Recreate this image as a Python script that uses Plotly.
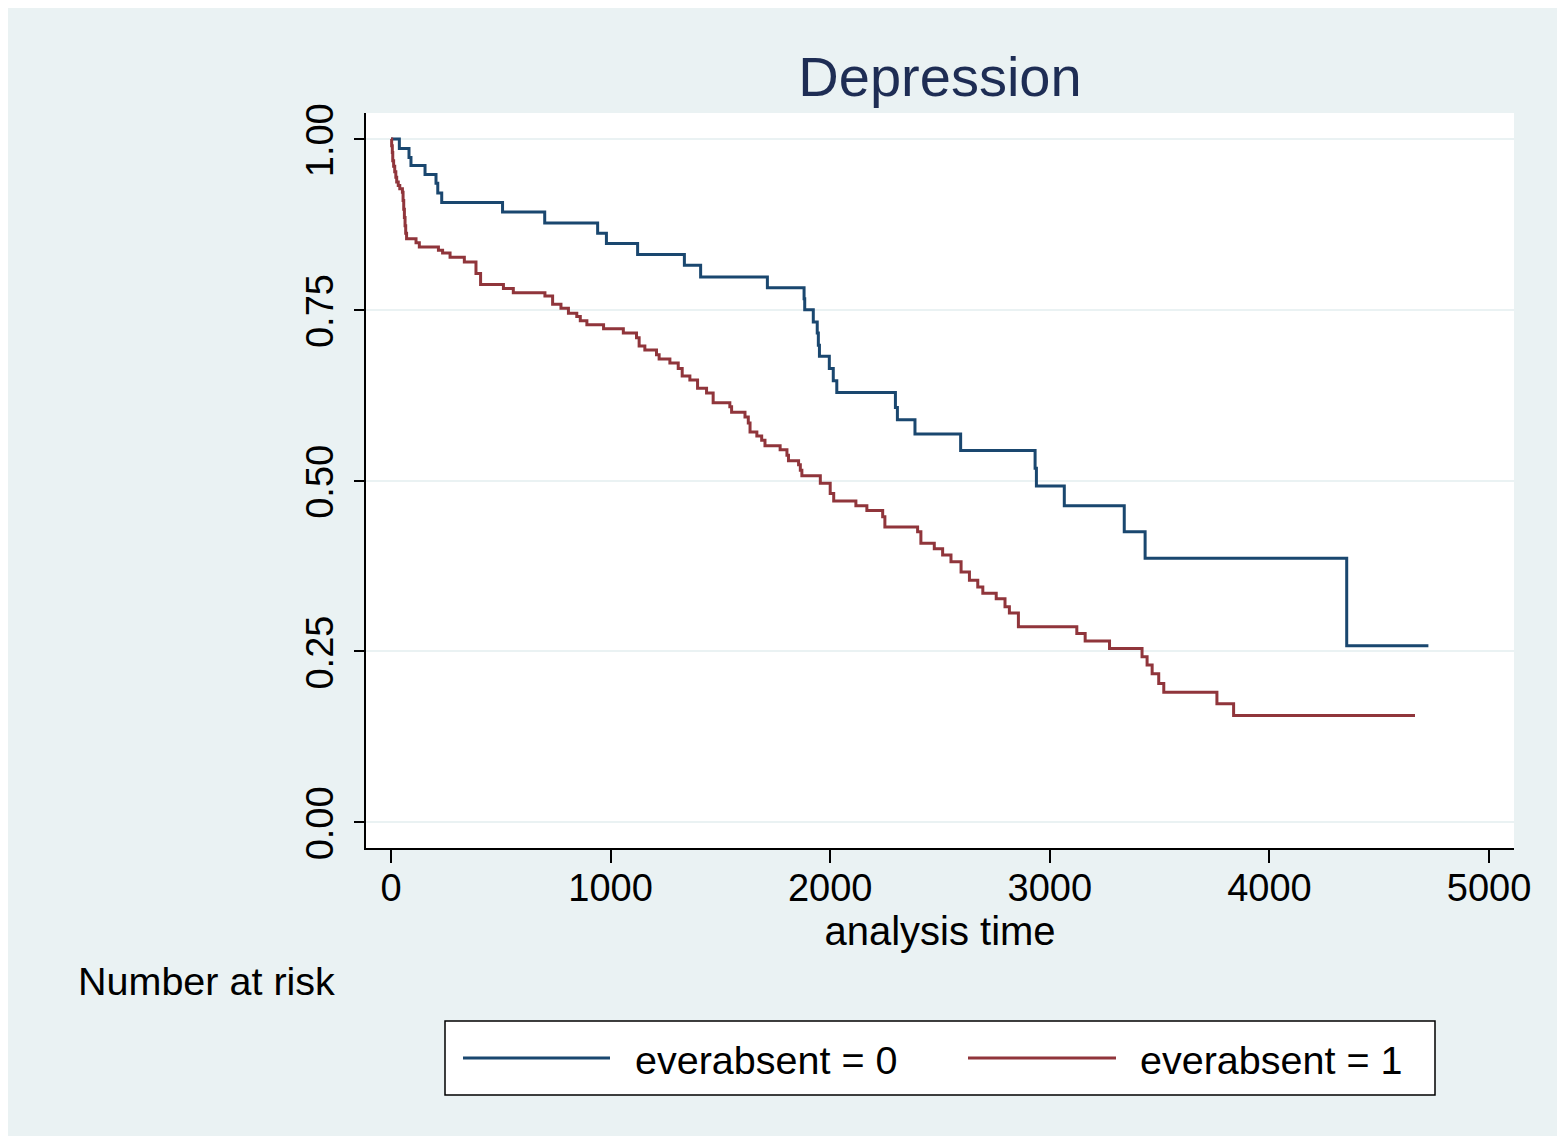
import plotly.graph_objects as go

# ---- data ----
blue_time = [0, 38, 82, 91, 155, 205, 213, 231, 508, 700, 941, 981, 1123, 1336, 1410,
             1714, 1881, 1884, 1923, 1941, 1946, 1951, 1996, 2014, 2030, 2297, 2306,
             2386, 2594, 2933, 2939, 3066, 3339, 3434, 4352, 4724]
blue_surv = [1.0, 0.986, 0.973, 0.961, 0.948, 0.935, 0.921, 0.907, 0.893, 0.877, 0.862,
             0.847, 0.831, 0.815, 0.798, 0.782, 0.766, 0.750, 0.732, 0.716, 0.698, 0.682,
             0.664, 0.646, 0.629, 0.607, 0.589, 0.568, 0.544, 0.518, 0.492, 0.463, 0.425,
             0.386, 0.258, 0.258]

red_time = [0, 3, 6, 8, 12, 17, 22, 26, 33, 40, 52, 55, 58, 61, 64, 67, 71, 114, 129,
            216, 235, 269, 334, 387, 408, 512, 557, 701, 736, 774, 808, 846, 862, 892,
            968, 1058, 1118, 1130, 1156, 1209, 1221, 1270, 1308, 1326, 1361, 1396, 1437,
            1467, 1543, 1551, 1612, 1627, 1635, 1666, 1688, 1703, 1772, 1803, 1810, 1856,
            1864, 1871, 1955, 2000, 2016, 2117, 2167, 2239, 2249, 2398, 2413, 2474, 2512,
            2550, 2596, 2634, 2672, 2695, 2756, 2796, 2816, 2857, 3123, 3161, 3272, 3420,
            3443, 3466, 3496, 3519, 3761, 3837, 4663]
red_surv = [1.0, 0.99, 0.98, 0.968, 0.96, 0.952, 0.944, 0.937, 0.932, 0.927, 0.922, 0.91,
            0.897, 0.885, 0.873, 0.862, 0.854, 0.848, 0.842, 0.837, 0.833, 0.827, 0.820,
            0.803, 0.787, 0.781, 0.775, 0.770, 0.758, 0.752, 0.745, 0.740, 0.734, 0.728,
            0.722, 0.716, 0.709, 0.697, 0.691, 0.684, 0.678, 0.672, 0.664, 0.653, 0.647,
            0.635, 0.628, 0.614, 0.608, 0.600, 0.593, 0.584, 0.571, 0.565, 0.559, 0.551,
            0.545, 0.537, 0.529, 0.523, 0.515, 0.507, 0.496, 0.481, 0.470, 0.463, 0.456,
            0.447, 0.432, 0.425, 0.408, 0.400, 0.391, 0.381, 0.366, 0.354, 0.344, 0.335,
            0.327, 0.315, 0.306, 0.286, 0.276, 0.265, 0.254, 0.242, 0.230, 0.217, 0.203,
            0.190, 0.173, 0.156, 0.156]

series_names = ["everabsent = 0", "everabsent = 1"]
y_ticks = [0.0, 0.25, 0.5, 0.75, 1.0]
x_ticks = [0, 1000, 2000, 3000, 4000, 5000]

BLUE = "#1a476f"
RED = "#90353b"
BG = "#eaf2f3"
FONT = "Liberation Sans, Arial, sans-serif"

fig = go.Figure()
fig.add_trace(go.Scatter(x=blue_time, y=blue_surv, mode="lines", line_shape="hv",
                         line=dict(color=BLUE, width=3), name=series_names[0],
                         showlegend=False))
fig.add_trace(go.Scatter(x=red_time, y=red_surv, mode="lines", line_shape="hv",
                         line=dict(color=RED, width=3), name=series_names[1],
                         showlegend=False))

# page body adds an 8px offset; positions below are screenshot pixels
OFF = 8
W, H = 1549, 1128
L, R, T, B = 366 - OFF, 1514 - OFF, 113 - OFF, 848 - OFF
PW, PH = R - L, B - T


def px(x):
    return (x - OFF - L) / PW


def py(y):
    return (B - (y - OFF)) / PH


fig.update_layout(
    width=W, height=H, autosize=False,
    margin=dict(l=L, r=W - R, t=T, b=H - B, pad=0),
    paper_bgcolor=BG, plot_bgcolor="white",
    font=dict(family=FONT, size=38, color="black"),
    title=dict(text="Depression", x=0.5, xref="paper", y=1 - (76 - OFF) / H,
               yref="container", xanchor="center", yanchor="middle",
               font=dict(size=56, color="#1e2d54", family=FONT)),
    xaxis=dict(range=[-113.8, 5113.8], tickvals=x_ticks, ticks="outside", ticklen=13,
               tickwidth=1.5, tickcolor="black", showline=True, linecolor="black",
               linewidth=1.5, showgrid=False, zeroline=False, ticklabelstandoff=-7,
               tickfont=dict(size=38),
               title=dict(text="analysis time", standoff=7, font=dict(size=40))),
    yaxis=dict(range=[-0.038, 1.038], tickvals=y_ticks, tickformat=".2f", ticks="outside",
               ticklen=10, tickwidth=1.5, tickcolor="black", showline=True,
               linecolor="black", linewidth=1.5, showgrid=True, gridcolor=BG,
               gridwidth=2, zeroline=False, tickangle=-90, ticklabelstandoff=6,
               ticklabelshift=7, tickfont=dict(size=38)),
)

# "Number at risk" label
fig.add_annotation(text="Number at risk", xref="paper", yref="paper", x=px(337),
                   y=py(981), xanchor="right", yanchor="middle", showarrow=False,
                   font=dict(size=39.5, color="black"))

# manual legend
fig.add_shape(type="rect", xref="paper", yref="paper", x0=px(445), x1=px(1435),
              y0=py(1095), y1=py(1021), fillcolor="white",
              line=dict(color="black", width=1.5))
for (x0, x1, tx, col, name) in [(463, 610, 633, BLUE, series_names[0]),
                                (968, 1116, 1138, RED, series_names[1])]:
    fig.add_shape(type="line", xref="paper", yref="paper", x0=px(x0), x1=px(x1),
                  y0=py(1058), y1=py(1058), line=dict(color=col, width=3))
    fig.add_annotation(text=name, xref="paper", yref="paper", x=px(tx), y=py(1060),
                       xanchor="left", yanchor="middle", showarrow=False,
                       font=dict(size=39.5, color="black"))

fig.write_html("out.html")
